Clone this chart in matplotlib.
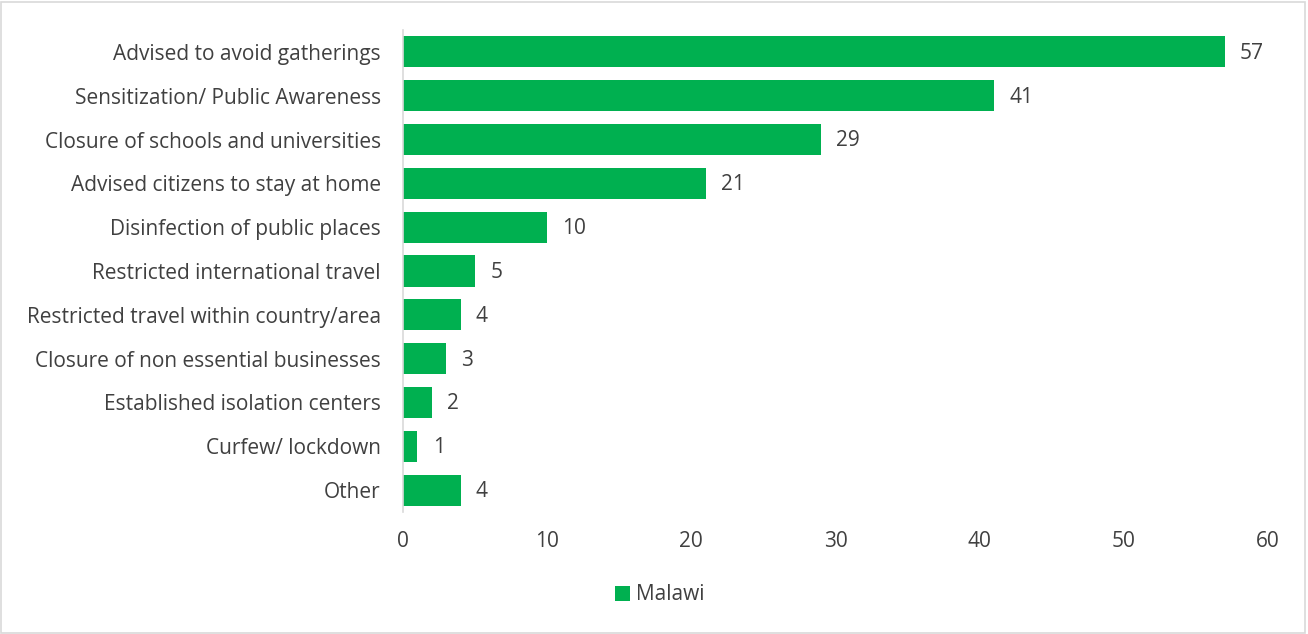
import matplotlib
matplotlib.use("Agg")
import matplotlib.pyplot as plt
from matplotlib.patches import Rectangle

categories = [
    "Advised to avoid gatherings",
    "Sensitization/ Public Awareness",
    "Closure of schools and universities",
    "Advised citizens to stay at home",
    "Disinfection of public places",
    "Restricted international travel",
    "Restricted travel within country/area",
    "Closure of non essential businesses",
    "Established isolation centers",
    "Curfew/ lockdown",
    "Other",
]
values = [57, 41, 29, 21, 10, 5, 4, 3, 2, 1, 4]
series_name = "Malawi"
x_ticks = [0, 10, 20, 30, 40, 50, 60]

GREEN = "#00B050"
TEXT = "#404040"
FS = 15
plt.rcParams["font.family"] = ["Open Sans", "DejaVu Sans"]

fig = plt.figure(figsize=(13.08, 6.34), dpi=100)
ax = fig.add_axes([403 / 1308, 1 - 512 / 634, (1268 - 403) / 1308, (512 - 30) / 634])

y = list(range(len(categories)))
bars = ax.barh(y, values, height=0.71, color=GREEN, label=series_name)
ax.set_ylim(len(categories) - 0.5, -0.5)
ax.set_xlim(0, 60)
ax.set_yticks(y)
ax.set_yticklabels(categories, fontsize=FS, color=TEXT)
ax.set_xticks(x_ticks)
ax.set_xticklabels([str(t) for t in x_ticks], fontsize=FS, color=TEXT)
ax.tick_params(axis="both", length=0)
ax.tick_params(axis="y", pad=16)
ax.tick_params(axis="x", pad=14)

for spine in ["top", "right", "bottom"]:
    ax.spines[spine].set_visible(False)
ax.spines["left"].set_color("#D9D9D9")
ax.spines["left"].set_linewidth(1.2)

for yi, v in zip(y, values):
    ax.annotate(str(v), (v, yi), xytext=(11, -1), textcoords="offset points",
                va="center", ha="left", fontsize=FS, color=TEXT)

leg = fig.legend(handles=[bars], labels=[series_name], loc="center",
                 bbox_to_anchor=(660 / 1308, 1 - 595 / 634), frameon=False,
                 fontsize=FS, handlelength=0.7, handleheight=0.7, handletextpad=0.3)
for t in leg.get_texts():
    t.set_color(TEXT)

fig.patches.append(Rectangle((0.001, 0.002), 0.997, 0.995, transform=fig.transFigure,
                             fill=False, edgecolor="#D9D9D9", linewidth=1.2))

fig.savefig("out.png", dpi=100, facecolor="white")
